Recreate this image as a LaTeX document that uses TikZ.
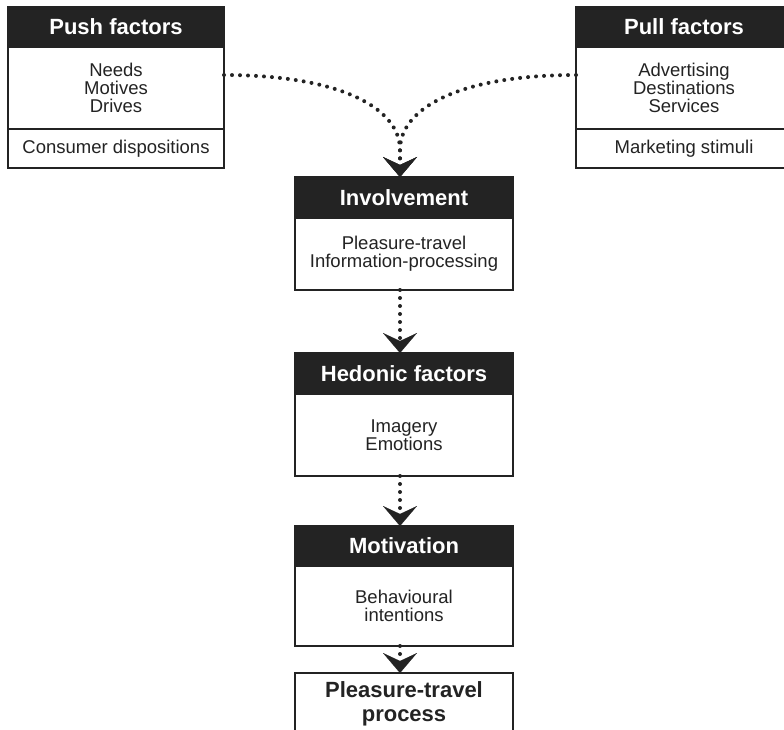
\documentclass[tikz,border=0pt]{standalone}
\usepackage{fontspec}
\setmainfont{Liberation Sans}
\usetikzlibrary{arrows.meta}
\definecolor{ink}{HTML}{232323}
\begin{document}
\begin{tikzpicture}[x=1pt,y=-1pt,
  every node/.style={outer sep=0pt, inner sep=0pt, align=center},
  hdr/.style={draw=ink, fill=ink, line width=1.6pt, text=white,
    font=\fontsize{22}{24}\selectfont\bfseries, minimum height=40pt, anchor=north},
  bodybox/.style={draw=ink, fill=white, line width=1.6pt, text=ink,
    font=\fontsize{18.5}{18}\selectfont, anchor=north},
  endbox/.style={draw=ink, fill=white, line width=1.6pt, text=ink,
    font=\fontsize{22}{24}\selectfont\bfseries, anchor=north},
  narrow/.style={minimum width=216pt},
  wide/.style={minimum width=218pt},
  flow/.style={draw=ink, line width=4pt, line cap=round, dash pattern=on 0pt off 8pt},
  tip/.style={-{Stealth[length=20pt, width=34pt, inset=8pt, line width=0.1pt]}}
]
\useasboundingbox (0,0) rectangle (784,730);
\clip (0,0) rectangle (784,730);

% Push factors
\node[hdr, narrow] (pushH) at (116,7) {Push factors};
\node[bodybox, narrow, minimum height=82pt] (pushB) at (pushH.south) {Needs\\Motives\\Drives};
\node[bodybox, narrow, minimum height=39pt] (pushC) at (pushB.south) {Consumer dispositions};

% Pull factors
\node[hdr, narrow] (pullH) at (684,7) {Pull factors};
\node[bodybox, narrow, minimum height=82pt] (pullB) at (pullH.south) {Advertising\\Destinations\\Services};
\node[bodybox, narrow, minimum height=39pt] (pullC) at (pullB.south) {Marketing stimuli};

% Involvement
\node[hdr, wide, minimum height=41pt] (invH) at (404,177) {Involvement};
\node[bodybox, wide, minimum height=72pt] (invB) at (invH.south) {Pleasure-travel\\Information-processing};

% Hedonic factors
\node[hdr, wide, minimum height=41pt] (hedH) at (404,353) {Hedonic factors};
\node[bodybox, wide, minimum height=82pt] (hedB) at (hedH.south) {Imagery\\Emotions};

% Motivation
\node[hdr, wide] (motH) at (404,526) {Motivation};
\node[bodybox, wide, minimum height=80pt] (motB) at (motH.south) {Behavioural\\intentions};

% Outcome
\node[endbox, wide, minimum height=62pt] (proc) at (404,673) {Pleasure-travel\\process};

% Dotted flows
\coordinate (merge) at (400,150);
\draw[flow, tip] ([yshift=13pt]pushB.east) .. controls +(116,0) and +(0,-42) .. (merge)
  -- ([xshift=-4pt]invH.north);
\draw[flow, tip] ([yshift=13pt]pullB.west) .. controls +(-116,0) and +(0,-42) .. (merge)
  -- ([xshift=-4pt]invH.north);
\draw[flow, tip] ([xshift=-4pt]invB.south) -- ([xshift=-4pt]hedH.north);
\draw[flow, tip] ([xshift=-4pt]hedB.south) -- ([xshift=-4pt]motH.north);
\draw[flow, tip] ([xshift=-4pt]motB.south) -- ([xshift=-4pt]proc.north);
\end{tikzpicture}
\end{document}
